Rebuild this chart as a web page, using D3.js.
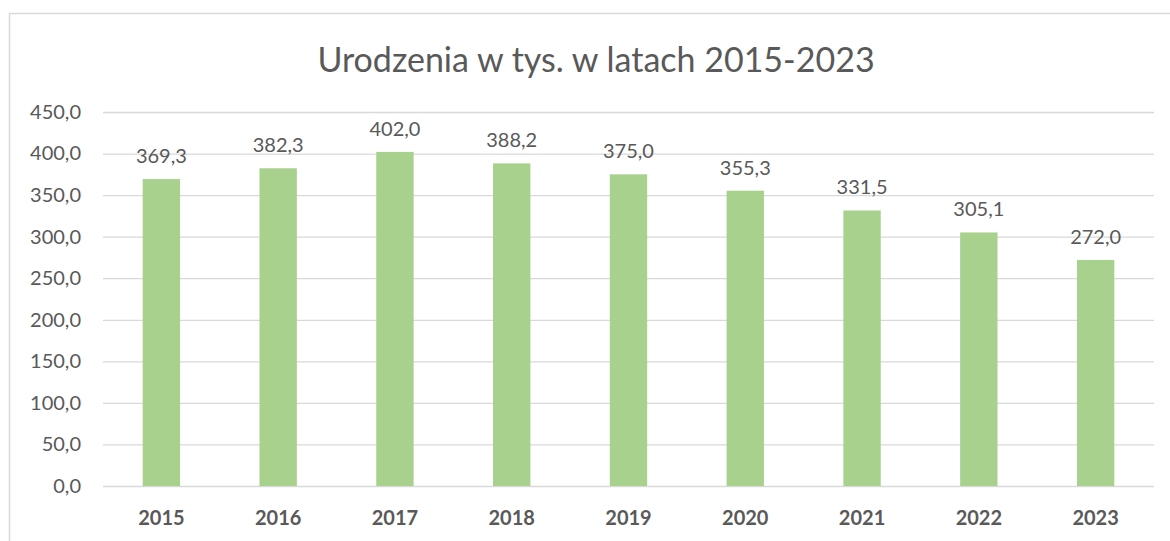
<html>
<head>
    <meta charset="utf-8">
    <title>Urodzenia w tys. w latach 2015-2023</title>
    <style>
        body { margin: 0; background: #fff; }
        text { font-family: Lato, "Open Sans", sans-serif; fill: #595959; }
    </style>
</head>
<body>
    <script src="https://cdn.jsdelivr.net/npm/d3@7"></script>
    <script>
        var width = 1170, height = 541;

        // dane
        const years = ["2015", "2016", "2017", "2018", "2019", "2020", "2021", "2022", "2023"];
        const births = [369.3, 382.3, 402.0, 388.2, 375.0, 355.3, 331.5, 305.1, 272.0];
        const yTicks = [0, 50, 100, 150, 200, 250, 300, 350, 400, 450];

        var svg = d3.select("body").append("svg")
            .attr("width", width)
            .attr("height", height);

        // ramka wykresu
        svg.append("rect")
            .attr("x", 9.5).attr("y", 13.5)
            .attr("width", 1170).attr("height", 540)
            .attr("fill", "none")
            .attr("stroke", "#d9d9d9")
            .attr("stroke-width", 1.5);

        svg.append("text")
            .attr("x", 596).attr("y", 72)
            .attr("text-anchor", "middle")
            .attr("font-size", "34px")
            .text("Urodzenia w tys. w latach 2015-2023");

        var x = d3.scaleBand()
            .domain(years)
            .range([103, 1154])
            .paddingInner(0.68)
            .paddingOuter(0.34);

        var y = d3.scaleLinear()
            .domain([0, 450])
            .range([486, 112]);

        var fmt = function (v) { return d3.format(".1f")(v).replace(".", ","); };

        // linie siatki + etykiety osi Y
        var yAxis = svg.append("g")
            .attr("transform", "translate(103,0)")
            .call(d3.axisLeft(y).tickValues(yTicks).tickSize(-1051).tickPadding(22).tickFormat(fmt));
        yAxis.select(".domain").remove();
        yAxis.selectAll("line").attr("stroke", "#d9d9d9").attr("stroke-width", 1.3);
        yAxis.selectAll("text")
            .attr("font-size", "20px")
            .attr("font-family", "Lato, 'Open Sans', sans-serif")
            .attr("fill", "#595959");

        svg.append("g").selectAll("rect")
            .data(births)
            .enter()
            .append("rect")
            .attr("x", (d, i) => x(years[i]))
            .attr("y", d => y(d))
            .attr("width", x.bandwidth())
            .attr("height", d => y(0) - y(d))
            .attr("fill", "#a9d18e");

        svg.append("g").selectAll("text")
            .data(births)
            .enter()
            .append("text")
            .attr("x", (d, i) => x(years[i]) + x.bandwidth() / 2)
            .attr("y", d => y(d) - 16)
            .attr("text-anchor", "middle")
            .attr("font-size", "20px")
            .text(fmt);

        // etykiety osi X
        var xAxis = svg.append("g")
            .attr("transform", "translate(0,486)")
            .call(d3.axisBottom(x).tickSize(0).tickPadding(25));
        xAxis.select(".domain").remove();
        xAxis.selectAll("text")
            .attr("font-size", "20px")
            .attr("font-weight", "bold")
            .attr("font-family", "Lato, 'Open Sans', sans-serif")
            .attr("fill", "#595959");
    </script>
</body>
</html>
